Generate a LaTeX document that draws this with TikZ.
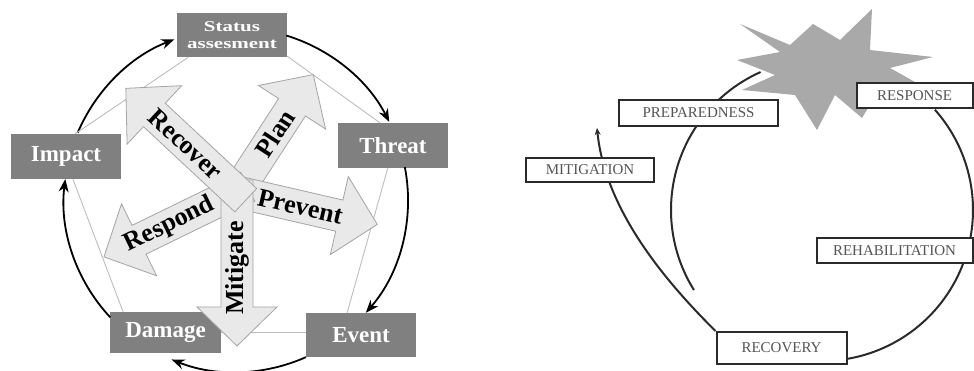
\documentclass[tikz,border=0pt]{standalone}
\usepackage{fontspec}
\setmainfont{Liberation Serif}
\usetikzlibrary{arrows.meta}
\definecolor{boxgray}{HTML}{808080}
\definecolor{arrowfill}{HTML}{E9E9E9}
\definecolor{arrowedge}{HTML}{A4A4A4}
\definecolor{thinline}{HTML}{BDBDBD}
\definecolor{burst}{HTML}{A9A9A9}
\definecolor{captext}{HTML}{555555}
\definecolor{frame}{HTML}{2A2A2A}

% block arrow from the hub O, pointing at angle #1, shaft length #2
\newcommand\blockarrow[2]{%
  \begin{scope}[shift={(O)}, rotate=#1]
    \filldraw[blockarr] (-12,-16) -- (#2,-16) -- (#2,-40) -- ({#2+39},0)
      -- (#2,40) -- (#2,16) -- (-12,16) -- cycle;
  \end{scope}}

\begin{document}
\begin{tikzpicture}[x=1pt,y=1pt,
  darkbox/.style={fill=boxgray, text=white, inner sep=0pt,
    font=\bfseries\fontsize{23}{26}\selectfont,
    minimum width=110pt, minimum height=44pt},
  blockarr/.style={fill=arrowfill, draw=arrowedge, line width=0.8pt, line join=miter},
  armlabel/.style={font=\bfseries\fontsize{26}{28}\selectfont, inner sep=0pt},
  cyc/.style={line width=1.8pt, -{Stealth[length=13pt,width=10pt]}},
  pent/.style={draw=thinline, line width=0.9pt},
  phasebox/.style={draw=frame, fill=white, line width=2pt, inner sep=0pt,
    text=captext, font=\fontsize{15}{17}\selectfont},
  ring/.style={line width=2pt, draw=frame}]
\useasboundingbox (0,0) rectangle (974,371);

% ---------------- crisis management cycle ----------------
\coordinate (Lc) at (236,171);
\coordinate (O) at (237,179);

\node[darkbox] (status) at (232,336) {};
\node[darkbox, minimum width=110pt, minimum height=45pt] (threat) at (393,225.5) {Threat};
\node[darkbox, minimum width=110pt, minimum height=45pt] (impact) at (66,214.5) {Impact};
\node[darkbox, minimum width=111pt, minimum height=41pt] (damage) at (165.5,38.5) {Damage};
\node[darkbox] (event) at (361,36) {Event};
\node[text=white, font=\bfseries\fontsize{15}{18}\selectfont, align=center, inner sep=0pt]
  (statustext) at (status.center)
  {\scalebox{1.4}[1]{Status}\\[-1pt]\scalebox{1.4}[1]{assesment}};

% outer cycle
\draw[cyc] ([shift={(157:172pt)}]Lc) arc[start angle=157, end angle=111, radius=172pt];
\draw[cyc] ([shift={(73:172pt)}]Lc) arc[start angle=73, end angle=27, radius=172pt];
\draw[cyc] ([shift={(11:172pt)}]Lc) arc[start angle=11, end angle=-41, radius=172pt];
\draw[cyc] ([shift={(-66:172pt)}]Lc) arc[start angle=-66, end angle=-112, radius=172pt];
\draw[cyc] ([shift={(-137:172pt)}]Lc) arc[start angle=-137, end angle=-187, radius=172pt];

% pentagon edges
\draw[pent] (status.207) -- (impact.68);
\draw[pent] (status.-21.8) -- (threat.120);
\draw[pent] (threat.257.5) -- (event.122.5);
\draw[pent] (damage.east) -- (damage.east -| event.west);
\draw[pent] (damage.154.2) -- (impact.-73.4);

% five action arrows
\blockarrow{57}{101}
\blockarrow{-13}{105}
\blockarrow{206}{109}
\blockarrow{270}{115}
\blockarrow{137}{113}

\node[armlabel, rotate=-43] (recover) at ([shift={(137:70pt)}]O) {Recover};
\node[armlabel, rotate=57] (plan) at ([shift={(57:70pt)}]O) {Plan};
\node[armlabel, rotate=-13] (prevent) at ([shift={(-13:65pt)}]O) {Prevent};
\node[armlabel, rotate=26] (respond) at ([shift={(206:75pt)}]O) {Respond};
\node[armlabel, rotate=90] (mitigate) at ([shift={(270:76pt)}]O) {Mitigate};

% ---------------- disaster management cycle ----------------
\coordinate (Rc) at (822,161);
\coordinate (mtip) at (597,243);

\draw[ring] ([shift={(114:151pt)}]Rc) arc[start angle=114, end angle=212, radius=151pt];
\draw[ring] ([shift={(41.6:151pt)}]Rc) arc[start angle=41.6, end angle=-10.6, radius=151pt];
\draw[ring] ([shift={(-20.6:151pt)}]Rc) arc[start angle=-20.6, end angle=-80.8, radius=151pt];

\fill[burst] (740,347) -- (790,326) -- (813,347) -- (840,331) -- (872,362)
  -- (870,321) -- (933,314) -- (890,303) -- (915,289) -- (880,283)
  -- (862,253) -- (835,276) -- (817,241) -- (795,276) -- (742,281)
  -- (775,296) -- (737,311) -- (780,319) -- cycle;

\node[phasebox, minimum width=130pt, minimum height=32pt] (recov) at (781.5,23) {RECOVERY};
\draw[ring, -{Stealth[length=7pt,width=6pt]}] (recov.north west)
  .. controls (662,93) and (605,163) .. (mtip);

\node[phasebox, minimum width=159pt, minimum height=26pt] (prep) at (698.5,258) {PREPAREDNESS};
\node[phasebox, minimum width=116pt, minimum height=25pt] (resp) at (914.5,275.5) {RESPONSE};
\node[phasebox, minimum width=128pt, minimum height=24pt] (mitig) at (590,201) {MITIGATION};
\node[phasebox, minimum width=156pt, minimum height=25pt] (rehab) at (894.5,120.5) {REHABILITATION};
\end{tikzpicture}
\end{document}
